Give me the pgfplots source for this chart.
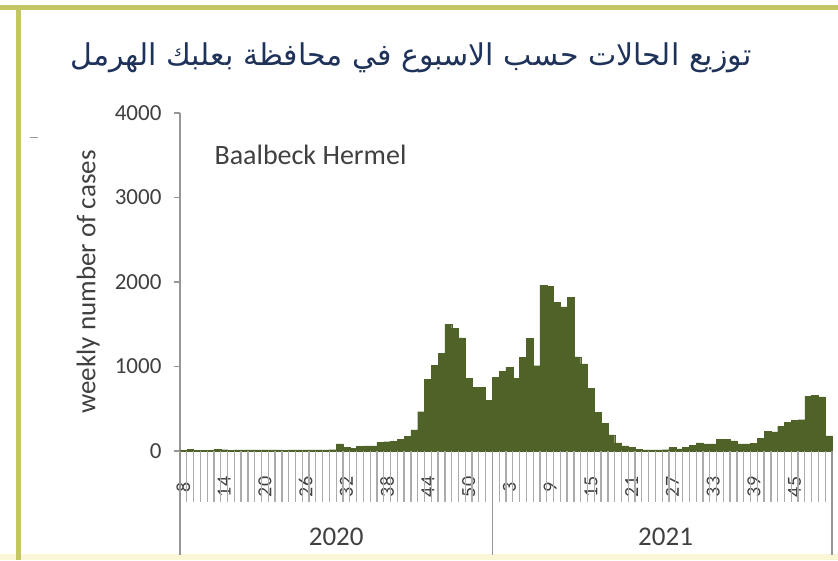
\documentclass[border=0pt]{standalone}
\usepackage{pgfplots}
\pgfplotsset{compat=1.18}
\usepackage{pgfplotstable}
\usepackage{fontspec}
\setmainfont{Carlito}
\newfontfamily\arabicfont[Script=Arabic]{DejaVu Sans}
\TeXXeTstate=1

\definecolor{barolive}{RGB}{79,98,40}
\definecolor{axgray}{RGB}{150,150,150}
\definecolor{txtgray}{RGB}{64,64,64}
\definecolor{titleblue}{RGB}{31,50,90}
\definecolor{frameyel}{RGB}{196,198,100}
\definecolor{paleyel}{RGB}{250,247,215}

% k = category index, 2020 weeks 8-53 then 2021 weeks 1-50
\pgfplotstableread{
k cases
0 8
1 20
2 5
3 5
4 5
5 18
6 15
7 5
8 12
9 12
10 12
11 12
12 12
13 12
14 12
15 5
16 12
17 12
18 12
19 12
20 12
21 12
22 15
23 85
24 45
25 30
26 55
27 60
28 60
29 105
30 110
31 115
32 135
33 175
34 250
35 465
36 850
37 1015
38 1155
39 1500
40 1450
41 1340
42 860
43 750
44 750
45 600
46 870
47 945
48 990
49 860
50 1110
51 1335
52 1010
53 1960
54 1945
55 1760
56 1705
57 1815
58 1115
59 1030
60 745
61 455
62 330
63 190
64 95
65 60
66 40
67 20
68 12
69 12
70 12
71 15
72 40
73 25
74 45
75 70
76 95
77 85
78 85
79 135
80 135
81 120
82 85
83 85
84 90
85 150
86 235
87 225
88 295
89 340
90 365
91 370
92 645
93 660
94 640
95 180
}\weekly

\begin{document}
\begin{tikzpicture}
\useasboundingbox (0,0) rectangle (838pt,560pt);
\fill[white] (0,0) rectangle (838pt,560pt);
% frame of the slide
\fill[paleyel] (0,0) rectangle (838pt,6pt);
\draw[frameyel, line width=5pt] (0,552pt) -- (838pt,552pt);
\draw[frameyel, line width=5pt] (18pt,0) -- (18pt,552pt);
\draw[axgray, line width=1pt] (30pt,422pt) -- (38pt,422pt);

\node[text=titleblue, font=\arabicfont\fontsize{30}{34}\selectfont] at (411pt,502pt) {\beginR توزيع الحالات حسب الاسبوع في محافظة بعلبك الهرمل\endR};

\begin{axis}[
  at={(180pt,109pt)}, anchor=south west,
  width=652pt, height=338pt,
  scale only axis,
  axis lines*=left,
  axis line style={axgray, line width=1.2pt},
  enlargelimits=false,
  clip=false,
  xmin=-0.5, xmax=95.5,
  ymin=0, ymax=4000,
  ytick={0,1000,...,4000},
  xtick={0,6,...,90},
  xticklabels={8,14,20,26,32,38,44,50,3,9,15,21,27,33,39,45},
  xtick style={draw=none},
  ytick style={axgray, line width=1.2pt},
  tick align=outside,
  major tick length=6pt,
  /pgf/number format/1000 sep={},
  /pgf/number format/assume math mode=true,
  yticklabel style={font=\fontsize{23}{26}\selectfont, text=txtgray, xshift=-9pt},
  xticklabel style={font=\fontsize{20}{22}\selectfont, text=txtgray, rotate=90, anchor=center, xshift=-30pt},
  ylabel={weekly number of cases},
  ylabel style={font=\fontsize{27}{30}\selectfont, text=txtgray, at={(axis description cs:-0.141,0.5)}, anchor=center},
]
\addplot[ybar, bar width=1, bar shift=0, fill=barolive, draw=barolive, line width=0.3pt] table[x=k, y=cases] {\weekly};
\pgfplotsinvokeforeach{0,...,94}{
  \draw[axgray!80, line width=1.3pt] (axis cs:#1+0.5,0) -- ([yshift=-51pt]axis cs:#1+0.5,0);
}
\draw[axgray, line width=1.5pt] (axis cs:-0.5,0) -- ([yshift=-104pt]axis cs:-0.5,0);
\draw[axgray, line width=1.5pt] (axis cs:45.5,0) -- ([yshift=-104pt]axis cs:45.5,0);
\draw[axgray, line width=1.5pt] (axis cs:95.5,0) -- ([yshift=-104pt]axis cs:95.5,0);
\node[text=txtgray, font=\fontsize{27}{30}\selectfont] at (axis cs:22.5,0) [yshift=-86pt] {2020};
\node[text=txtgray, font=\fontsize{27}{30}\selectfont] at (axis cs:71,0) [yshift=-86pt] {2021};
\end{axis}

\node[anchor=west, text=txtgray, font=\fontsize{28}{32}\selectfont] at (211pt,405pt) {Baalbeck Hermel};
\end{tikzpicture}
\end{document}
